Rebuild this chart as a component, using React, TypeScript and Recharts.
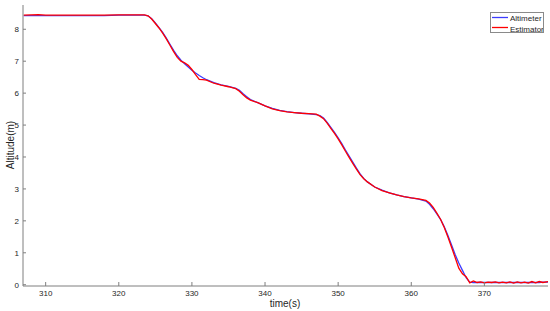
import { LineChart, Line, XAxis, YAxis, Legend, Label } from "recharts";

// sample times (s)
const time = [
  307, 309, 310, 312, 315, 318, 320, 322, 323.5, 324, 324.5, 325, 325.5, 326, 326.5, 327, 327.5,
  328, 328.5, 329, 329.5, 330, 330.5, 331, 331.5, 332, 333, 334, 335, 336, 336.5, 337, 337.5, 338,
  339, 340, 341, 342, 343, 344, 345, 346, 347, 347.5, 348, 348.5, 349, 349.5, 350, 350.5, 351,
  351.5, 352, 352.5, 353, 353.5, 354, 355, 356, 357, 358, 359, 360, 361, 362, 362.5, 363, 363.5,
  364, 364.5, 365, 365.5, 366, 366.5, 367, 367.5, 368, 368.5, 369, 369.5, 370, 370.5, 371, 371.5,
  372, 372.5, 373, 373.5, 374, 374.5, 375, 375.5, 376, 376.5, 377, 377.5, 378, 378.7,
];

const altimeter = [
  8.43, 8.43, 8.43, 8.43, 8.43, 8.43, 8.44, 8.44, 8.44, 8.42, 8.33, 8.2, 8.05, 7.9, 7.72, 7.53, 7.34,
  7.17, 7.03, 6.92, 6.82, 6.72, 6.63, 6.55, 6.48, 6.42, 6.33, 6.26, 6.21, 6.15, 6.09, 5.98, 5.89, 5.8,
  5.7, 5.6, 5.52, 5.46, 5.42, 5.39, 5.37, 5.35, 5.33, 5.3, 5.22, 5.08, 4.93, 4.77, 4.6, 4.42, 4.22,
  4.03, 3.84, 3.65, 3.47, 3.33, 3.22, 3.06, 2.96, 2.88, 2.81, 2.76, 2.72, 2.68, 2.62, 2.52, 2.38, 2.22,
  2.05, 1.82, 1.55, 1.25, 0.95, 0.68, 0.45, 0.22, 0.08, 0.07, 0.07, 0.07, 0.07, 0.07, 0.07, 0.07,
  0.07, 0.07, 0.07, 0.07, 0.07, 0.07, 0.07, 0.07, 0.07, 0.07, 0.07, 0.07, 0.08, 0.08,
];

const estimator = [
  8.44, 8.46, 8.44, 8.44, 8.44, 8.44, 8.45, 8.45, 8.45, 8.42, 8.32, 8.18, 8.04, 7.88, 7.7, 7.5, 7.3,
  7.12, 7.0, 6.95, 6.87, 6.74, 6.58, 6.43, 6.42, 6.41, 6.31, 6.25, 6.2, 6.14, 6.06, 5.95, 5.85, 5.78,
  5.7, 5.6, 5.51, 5.45, 5.41, 5.39, 5.37, 5.36, 5.34, 5.28, 5.2, 5.06, 4.9, 4.74, 4.57, 4.38, 4.18,
  3.99, 3.8, 3.62, 3.45, 3.32, 3.22, 3.06, 2.95, 2.88, 2.81, 2.76, 2.72, 2.69, 2.64, 2.56, 2.42, 2.24,
  2.05, 1.8, 1.5, 1.18, 0.85, 0.52, 0.34, 0.25, 0.06, 0.12, 0.07, 0.09, 0.06, 0.08, 0.07, 0.09,
  0.06, 0.08, 0.06, 0.09, 0.05, 0.09, 0.06, 0.08, 0.05, 0.1, 0.06, 0.1, 0.07, 0.1,
];

const xTicks = [310, 320, 330, 340, 350, 360, 370];
const yTicks = [0, 1, 2, 3, 4, 5, 6, 7, 8];

const data = time.map((t, i) => ({ t, altimeter: altimeter[i], estimator: estimator[i] }));

const AXIS = "#7f7f7f";
const TXT = "#262626";
const BLUE = "#3c3cff";
const RED = "#ff0000";
const FONT = "'Liberation Sans', Arial, sans-serif";
const MARGIN = 4;

// MATLAB style: ticks point into the plot
const XTick = (props: any) => {
  const { x, y, payload } = props;
  const axisY = y - MARGIN;
  return (
    <g>
      <line x1={x} x2={x} y1={axisY} y2={axisY - 4} stroke={AXIS} />
      <text x={x} y={y} dy="0.8em" textAnchor="middle" fontSize={8} fill={TXT} fontFamily={FONT}>
        {payload.value}
      </text>
    </g>
  );
};

const YTick = (props: any) => {
  const { x, y, payload } = props;
  const axisX = x + MARGIN;
  return (
    <g>
      <line x1={axisX} x2={axisX + 3} y1={y} y2={y} stroke={AXIS} />
      <text x={x} y={y} dy="0.35em" textAnchor="end" fontSize={8} fill={TXT} fontFamily={FONT}>
        {payload.value}
      </text>
    </g>
  );
};

const LegendBox = () => (
  <div
    style={{
      width: 52,
      height: 19,
      border: "1px solid #8a8a8a",
      background: "#fff",
      position: "relative",
    }}
  >
    <svg width={52} height={19} style={{ position: "absolute", left: 0, top: 0 }}>
      <line x1={1} x2={17} y1={4.5} y2={4.5} stroke={BLUE} strokeWidth={1.3} />
      <line x1={1} x2={17} y1={14.5} y2={14.5} stroke={RED} strokeWidth={1.3} />
      <text x={19} y={8} fontSize={8} fill={TXT} fontFamily={FONT}>Altimeter</text>
      <text x={19} y={18.5} fontSize={8} fill={TXT} fontFamily={FONT}>Estimator</text>
    </svg>
  </div>
);

export default function App() {
  return (
    <div style={{ position: "absolute", left: 0, top: 0, width: 550, height: 311, background: "#fff" }}>
      <LineChart width={550} height={311} data={data} margin={{ top: 5, right: 2, bottom: 0, left: 0 }}>
        <XAxis
          dataKey="t"
          type="number"
          domain={[306.9, 378.7]}
          allowDataOverflow
          ticks={xTicks}
          height={25}
          stroke={AXIS}
          tickLine={false}
          tickSize={0}
          tickMargin={MARGIN}
          tick={XTick}
          interval={0}
        >
          <Label
            content={() => (
              <text x={285} y={307} textAnchor="middle" fontSize={10} fill={TXT} fontFamily={FONT}>
                time(s)
              </text>
            )}
          />
        </XAxis>
        <YAxis
          type="number"
          domain={[-0.04, 8.76]}
          allowDataOverflow
          ticks={yTicks}
          width={23}
          stroke={AXIS}
          tickLine={false}
          tickSize={0}
          tickMargin={MARGIN}
          tick={YTick}
          interval={0}
        >
          <Label
            content={() => (
              <text
                x={14}
                y={145}
                transform="rotate(-90 14 145)"
                textAnchor="middle"
                fontSize={10}
                fill={TXT}
                fontFamily={FONT}
              >
                Altitude(m)
              </text>
            )}
          />
        </YAxis>
        <Legend
          layout="horizontal"
          verticalAlign="middle"
          align="center"
          content={LegendBox}
          wrapperStyle={{ position: "absolute", left: 490, top: 12, width: 54, height: 21 }}
        />
        <Line
          dataKey="altimeter"
          name="Altimeter"
          stroke={BLUE}
          strokeWidth={1.3}
          dot={false}
          type="linear"
          isAnimationActive={false}
        />
        <Line
          dataKey="estimator"
          name="Estimator"
          stroke={RED}
          strokeWidth={1.3}
          dot={false}
          type="linear"
          isAnimationActive={false}
        />
      </LineChart>
    </div>
  );
}
